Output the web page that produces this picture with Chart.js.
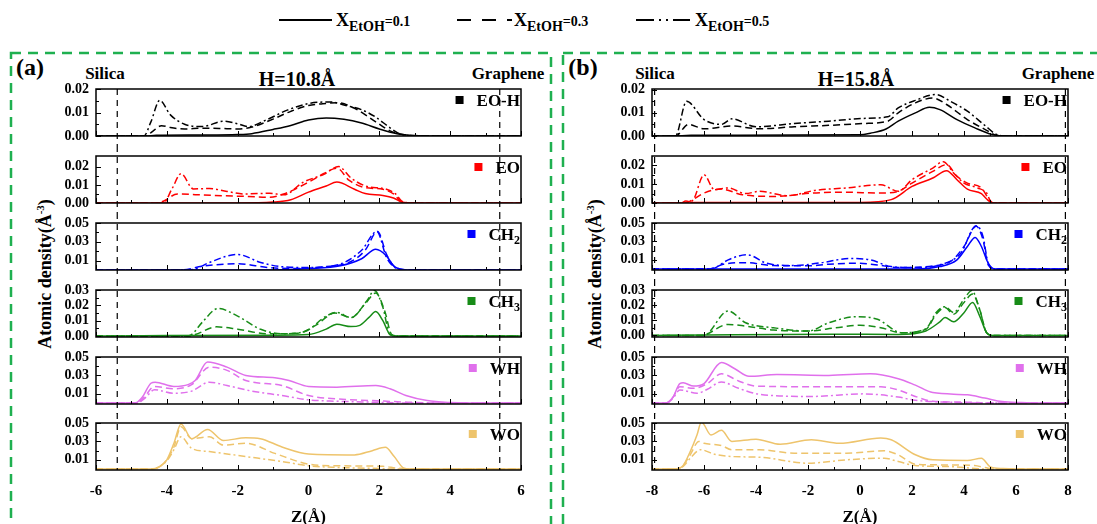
<!DOCTYPE html>
<html>
<head>
<meta charset="utf-8">
<script src="https://cdn.jsdelivr.net/npm/chart.js@4.4.1/dist/chart.umd.min.js"></script>
<style>
  body { margin: 0; width: 1097px; height: 524px; position: relative; overflow: hidden; background: #fff;
         font-family: "Liberation Serif", "Times New Roman", serif; font-weight: bold; color: #000; }
  canvas { position: absolute; }
  .lbl { position: absolute; white-space: nowrap; transform: translate(-50%, -50%); line-height: 1; }
  .ytitle { position: absolute; white-space: nowrap; transform: translate(-50%, -50%) rotate(-90deg); font-size: 18px; line-height: 1; }
  .key { position: absolute; top: 11px; white-space: nowrap; font-size: 18px; line-height: 1; }
  .key sub { font-size: 14px; vertical-align: -5px; }
  .key small { font-size: 14px; }
</style>
</head>
<body>
<svg style="position:absolute;left:0;top:0" width="1097" height="524">
  <rect x="11" y="53" width="540" height="500" fill="none" stroke="#1fb050" stroke-width="2.5" stroke-dasharray="10 7"/>
  <rect x="563" y="53" width="560" height="500" fill="none" stroke="#1fb050" stroke-width="2.5" stroke-dasharray="10 7"/>
  <line x1="279" y1="20" x2="332" y2="20" stroke="#000" stroke-width="2"/>
  <line x1="457" y1="20" x2="512" y2="20" stroke="#000" stroke-width="2" stroke-dasharray="14 11"/>
  <line x1="636" y1="20" x2="690" y2="20" stroke="#000" stroke-width="2" stroke-dasharray="18 5 2 5 2 5"/>
</svg>
<div class="key" style="left:336px">X<sub>EtOH</sub><small>=0.1</small></div>
<div class="key" style="left:514px">X<sub>EtOH</sub><small>=0.3</small></div>
<div class="key" style="left:695px">X<sub>EtOH</sub><small>=0.5</small></div>

<div class="lbl" style="left:30px;top:67px;font-size:24px">(a)</div>
<div class="lbl" style="left:105px;top:73px;font-size:17px">Silica</div>
<div class="lbl" style="left:297px;top:79px;font-size:20px">H=10.8Å</div>
<div class="lbl" style="left:508px;top:73px;font-size:17px">Graphene</div>
<div class="lbl" style="left:583px;top:67px;font-size:24px">(b)</div>
<div class="lbl" style="left:655px;top:73px;font-size:17px">Silica</div>
<div class="lbl" style="left:856px;top:79px;font-size:20px">H=15.8Å</div>
<div class="lbl" style="left:1058px;top:73px;font-size:17px">Graphene</div>
<div class="ytitle" style="left:44px;top:274px">Atomic density(Å<sup style="font-size:11px">-3</sup>)</div>
<div class="ytitle" style="left:594px;top:274px">Atomic density(Å<sup style="font-size:11px">-3</sup>)</div>

<script>
// density profiles along Z, as [z (Å), rho (Å^-3)]
// panel (a), H = 10.8 Å
const aEOH1 = [[-6,0],[-4.6,0],[-4.3,0.0003],[-3,0.0004],[-2,0.0006],[-1.6,0.001],[-1,0.0028],[-0.5,0.0045],[0,0.0068],[0.5,0.0077],[1,0.0071],[1.5,0.0055],[2,0.003],[2.5,0.001],[3,0.0002],[3.5,0],[6,0]];
const aEOH3 = [[-6,0],[-4.6,0],[-4.4,0.002],[-4.15,0.0044],[-3.9,0.0036],[-3.5,0.003],[-3,0.0033],[-2.5,0.0032],[-2,0.003],[-1.6,0.0038],[-1,0.0072],[-0.5,0.0105],[0,0.013],[0.4,0.0137],[0.8,0.0142],[1.3,0.0118],[1.9,0.006],[2.3,0.0022],[2.7,0.0005],[3.2,0],[6,0]];
const aEOH5 = [[-6,0],[-4.65,0],[-4.45,0.006],[-4.2,0.0152],[-3.9,0.009],[-3.5,0.005],[-3,0.004],[-2.4,0.0063],[-2,0.0052],[-1.7,0.004],[-1.2,0.0068],[-0.6,0.011],[0,0.0138],[0.6,0.0145],[1.1,0.0128],[1.5,0.0112],[1.9,0.008],[2.3,0.0035],[2.6,0.0008],[3,0.0001],[6,0]];
const aEO1 = [[-6,0],[-2,0],[-1,0.0005],[-0.5,0.0018],[0,0.006],[0.5,0.0094],[0.8,0.0116],[1.3,0.0076],[1.6,0.0052],[2.1,0.0042],[2.4,0.0028],[2.65,0.0004],[3,0],[6,0]];
const aEO3 = [[-6,0],[-4.3,0],[-4.1,0.001],[-3.7,0.005],[-3.2,0.0046],[-2.4,0.004],[-1.7,0.0036],[-1.1,0.0032],[-0.7,0.005],[0,0.0115],[0.45,0.0165],[0.8,0.0193],[1.15,0.0125],[1.6,0.0085],[2.1,0.0076],[2.4,0.005],[2.65,0.0004],[3,0],[6,0]];
const aEO5 = [[-6,0],[-4.1,0],[-3.85,0.008],[-3.6,0.0162],[-3.25,0.0078],[-2.8,0.008],[-2.3,0.0064],[-1.8,0.005],[-1.1,0.0054],[-0.7,0.0045],[-0.15,0.0115],[0.45,0.016],[0.85,0.0202],[1.2,0.0138],[1.6,0.0095],[2.2,0.0076],[2.45,0.0052],[2.65,0.0008],[3,0],[6,0]];
const aCH2_1 = [[-6,0],[-1,0],[0,0.0015],[0.9,0.0045],[1.5,0.012],[1.9,0.022],[2.2,0.015],[2.4,0.0045],[2.6,0.0008],[2.9,0],[6,0]];
const aCH2_3 = [[-6,0],[-3.6,0],[-3,0.004],[-2,0.0067],[-1.15,0.0027],[-0.5,0.0016],[0.3,0.003],[1.2,0.009],[1.6,0.021],[1.95,0.041],[2.2,0.017],[2.4,0.0045],[2.6,0.0008],[2.9,0],[6,0]];
const aCH2_5 = [[-6,0],[-3.4,0],[-3.2,0.001],[-2.8,0.008],[-2,0.0165],[-1.35,0.008],[-0.75,0.0035],[0,0.0027],[0.9,0.0064],[1.5,0.021],[1.93,0.041],[2.2,0.0136],[2.4,0.0035],[2.6,0.0005],[2.9,0],[6,0]];
const aCH3_1 = [[-6,0],[-4,0.0003],[-1,0.0006],[0,0.001],[0.5,0.0045],[0.8,0.0077],[1.2,0.0062],[1.45,0.007],[1.7,0.012],[1.9,0.016],[2.1,0.01],[2.3,0.001],[2.5,0],[6,0]];
const aCH3_3 = [[-6,0],[-3.4,0],[-3.2,0.001],[-2.6,0.006],[-2,0.0045],[-1.15,0.0015],[-0.3,0.0018],[0.2,0.007],[0.75,0.015],[1.2,0.012],[1.6,0.021],[1.9,0.028],[2.15,0.0165],[2.35,0.001],[2.6,0],[6,0]];
const aCH3_5 = [[-6,0],[-3.5,0],[-3.3,0.001],[-3,0.009],[-2.55,0.018],[-2,0.013],[-1.35,0.0044],[-0.75,0.0015],[-0.1,0.003],[0.5,0.013],[0.8,0.0154],[1.2,0.012],[1.65,0.023],[1.86,0.0297],[2.1,0.0187],[2.3,0.001],[2.6,0],[6,0]];
const aWH1 = [[-6,0],[-4.9,0],[-4.7,0.006],[-4.45,0.0215],[-4.33,0.0227],[-3.8,0.018],[-3.4,0.02],[-3.2,0.0245],[-2.85,0.0445],[-2.3,0.039],[-1.77,0.03],[-0.95,0.0275],[-0.55,0.0245],[0,0.018],[0.8,0.0173],[1.9,0.019],[2.3,0.0155],[2.75,0.0082],[3.35,0.0027],[4,0.0005],[4.5,0],[6,0]];
const aWH3 = [[-6,0],[-4.85,0],[-4.65,0.006],[-4.35,0.018],[-3.8,0.0155],[-3.3,0.02],[-2.8,0.039],[-2.3,0.0355],[-1.77,0.0245],[-0.75,0.019],[0,0.0082],[0.8,0.0045],[1.8,0.0027],[2.8,0.001],[3.5,0],[6,0]];
const aWH5 = [[-6,0],[-4.85,0],[-4.6,0.006],[-4.35,0.0145],[-3.8,0.0107],[-3.3,0.013],[-2.8,0.0227],[-2.3,0.019],[-1.6,0.013],[-0.75,0.0082],[0,0.0035],[0.8,0.002],[1.8,0.001],[2.8,0],[6,0]];
const aWO1 = [[-6,0],[-4.45,0],[-4.2,0.003],[-4,0.01],[-3.8,0.028],[-3.6,0.049],[-3.3,0.033],[-2.85,0.043],[-2.4,0.031],[-1.77,0.034],[-1.36,0.033],[-0.75,0.024],[0,0.0164],[1.3,0.0154],[1.8,0.02],[2.17,0.0236],[2.42,0.0136],[2.7,0.001],[3,0],[6,0]];
const aWO3 = [[-6,0],[-4.4,0],[-4,0.01],[-3.8,0.024],[-3.6,0.046],[-3.3,0.033],[-2.8,0.035],[-2.4,0.026],[-1.77,0.028],[-0.95,0.017],[0,0.0054],[0.8,0.0036],[2.1,0.003],[2.5,0.001],[3,0],[6,0]];
const aWO5 = [[-6,0],[-4.4,0],[-4,0.009],[-3.8,0.021],[-3.6,0.035],[-3.3,0.0225],[-2.8,0.019],[-1.77,0.0136],[-0.75,0.0082],[0,0.0036],[0.8,0.0018],[1.8,0.0008],[2.5,0],[6,0]];

// panel (b), H = 15.8 Å
const bEOH1 = [[-8,0],[-7.2,0],[-6.5,0.0003],[0,0.0005],[0.4,0.0012],[1,0.003],[1.47,0.0064],[2.13,0.01],[2.67,0.0124],[3.07,0.0114],[3.73,0.0071],[4.4,0.0036],[5.07,0.0007],[5.7,0],[8,0]];
const bEOH3 = [[-8,0],[-7.1,0],[-6.6,0.005],[-6,0.0031],[-4.93,0.0043],[-3.87,0.0031],[-2.53,0.004],[-1.2,0.0046],[0.13,0.0054],[1.07,0.0064],[1.47,0.01],[2.13,0.0143],[2.8,0.0164],[3.33,0.0136],[4.13,0.0071],[4.8,0.0029],[5.2,0.0005],[5.6,0],[8,0]];
const bEOH5 = [[-8,0],[-7.1,0],[-6.67,0.015],[-6,0.0071],[-5.33,0.005],[-4.93,0.0074],[-4,0.004],[-2.53,0.0054],[-1.2,0.0064],[0.13,0.0076],[1.07,0.0083],[1.47,0.0121],[2.13,0.0154],[2.93,0.0179],[3.47,0.015],[4.13,0.0107],[4.8,0.0046],[5.2,0.001],[5.6,0],[8,0]];
const bEO1 = [[-8,0],[-6.9,0],[-6.7,0.001],[-6.4,0.0002],[0,0.0003],[1.2,0.0018],[2,0.0088],[2.8,0.0133],[3.33,0.0172],[3.73,0.0124],[4.13,0.0074],[4.67,0.005],[4.87,0.0021],[5.07,0.0002],[5.4,0],[8,0]];
const bEO3 = [[-8,0],[-6.8,0],[-6.53,0.001],[-6,0.0053],[-5.33,0.0074],[-4.53,0.0044],[-3.2,0.0035],[-1.87,0.0053],[-0.53,0.0057],[0.8,0.0053],[1.47,0.0062],[2,0.0106],[2.8,0.0168],[3.33,0.0204],[3.73,0.0142],[4.13,0.0106],[4.67,0.008],[4.93,0.0027],[5.13,0],[8,0]];
const bEO5 = [[-8,0],[-6.7,0],[-6.4,0.002],[-6,0.015],[-5.6,0.0071],[-5.07,0.008],[-4.4,0.005],[-3.87,0.0062],[-2.8,0.0039],[-1.73,0.0067],[-0.53,0.008],[0.8,0.0097],[1.47,0.0062],[2,0.0124],[2.8,0.0186],[3.2,0.022],[3.6,0.016],[4,0.0106],[4.53,0.008],[4.87,0.0053],[5.07,0],[8,0]];
const bCH2_1 = [[-8,0],[2.1,0],[3.07,0.0027],[3.73,0.01],[4.13,0.0245],[4.43,0.0344],[4.67,0.0245],[4.93,0.0064],[5.2,0],[8,0]];
const bCH2_3 = [[-8,0],[-5.9,0],[-5.73,0.0005],[-5.2,0.0056],[-4.4,0.007],[-3.33,0.0038],[-2,0.0035],[-1.2,0.0053],[-0.13,0.0064],[0.67,0.0045],[1.47,0.0016],[2.8,0.0035],[3.47,0.008],[4,0.0245],[4.47,0.0464],[4.73,0.032],[4.93,0.0045],[5.2,0],[8,0]];
const bCH2_5 = [[-8,0],[-5.8,0],[-5.6,0.001],[-5.07,0.01],[-4.33,0.0155],[-3.6,0.0064],[-2.53,0.0038],[-1.47,0.007],[-0.4,0.0115],[0.4,0.01],[1.2,0.0027],[2.13,0.0016],[3.07,0.0045],[3.87,0.017],[4.47,0.047],[4.73,0.0355],[4.93,0.0064],[5.2,0],[8,0]];
const bCH3_1 = [[-8,0],[-6,0.0003],[-1,0.0008],[1.47,0.0007],[2.53,0.003],[3.07,0.009],[3.27,0.0118],[3.6,0.009],[4,0.015],[4.33,0.0218],[4.6,0.0129],[4.87,0.0018],[5.1,0],[8,0]];
const bCH3_3 = [[-8,0],[-6,0],[-5.87,0.001],[-5.07,0.0073],[-4.4,0.0062],[-3.33,0.0036],[-2,0.0029],[-0.93,0.0051],[0,0.0067],[0.8,0.0051],[1.6,0.0018],[2.53,0.004],[2.93,0.014],[3.27,0.0184],[3.6,0.014],[4,0.0218],[4.33,0.0273],[4.6,0.0173],[4.87,0.0018],[5.1,0],[8,0]];
const bCH3_5 = [[-8,0],[-6,0],[-5.87,0.001],[-5.07,0.0162],[-4.4,0.0084],[-3.33,0.0051],[-2,0.0029],[-1.2,0.0084],[-0.13,0.0124],[0.67,0.0107],[1.6,0.0018],[2.53,0.0044],[2.93,0.0151],[3.27,0.019],[3.6,0.0151],[4,0.024],[4.3,0.0296],[4.6,0.0173],[4.87,0.0018],[5.1,0],[8,0]];
const bWH1 = [[-8,0],[-7.5,0],[-7.2,0.006],[-6.93,0.0212],[-6.8,0.022],[-6.4,0.0184],[-6,0.0212],[-5.33,0.044],[-4.8,0.037],[-4.27,0.029],[-3.2,0.031],[-1.2,0.03],[0.4,0.0318],[1.47,0.0265],[2.13,0.0195],[2.8,0.0114],[4.13,0.009],[4.8,0.0054],[5.47,0.0016],[6.2,0.0005],[7,0],[8,0]];
const bWH3 = [[-8,0],[-7.45,0],[-7.2,0.006],[-6.93,0.0177],[-6.4,0.016],[-5.87,0.0212],[-5.33,0.0318],[-4.67,0.024],[-4,0.0184],[-1.2,0.0177],[0.8,0.0177],[1.47,0.0142],[2.13,0.0072],[2.8,0.002],[4.13,0.001],[5,0],[8,0]];
const bWH5 = [[-8,0],[-7.45,0],[-7.2,0.005],[-6.93,0.0142],[-6.27,0.0107],[-5.87,0.015],[-5.33,0.023],[-4.67,0.016],[-3.87,0.0096],[-1.87,0.0072],[0.13,0.01],[1.47,0.0065],[2.13,0.003],[3.47,0.0009],[4.5,0],[8,0]];
const bWO1 = [[-8,0],[-7.1,0],[-6.8,0.004],[-6.53,0.019],[-6.27,0.037],[-6.1,0.051],[-5.73,0.037],[-5.33,0.042],[-4.93,0.03],[-4,0.0325],[-3.07,0.027],[-1.87,0.0318],[-0.8,0.028],[0.8,0.0336],[1.2,0.0318],[2.13,0.0155],[2.8,0.01],[4.13,0.0093],[4.67,0.0118],[5,0.0027],[5.5,0.0005],[6,0],[8,0]];
const bWO3 = [[-8,0],[-7.1,0],[-6.8,0.004],[-6.53,0.0155],[-6.2,0.03],[-6,0.028],[-5.33,0.0256],[-4.93,0.021],[-3.87,0.021],[-2.53,0.0173],[-0.53,0.0173],[0.93,0.0198],[1.47,0.0155],[2.13,0.0053],[3.47,0.0045],[4.4,0.0038],[4.93,0.001],[5.5,0],[8,0]];
const bWO5 = [[-8,0],[-7.1,0],[-6.8,0.003],[-6.53,0.0118],[-6.13,0.021],[-5.6,0.0162],[-4.93,0.0136],[-3.87,0.0129],[-2,0.0064],[-0.53,0.01],[0.93,0.0118],[1.47,0.0082],[2.13,0.0038],[3.47,0.0027],[4.93,0],[8,0]];

const speciesNames = ['EO-H', 'EO', 'CH2', 'CH3', 'WH', 'WO'];
const fractions = ['0.1', '0.3', '0.5'];
const zTicksA = [-6, -4, -2, 0, 2, 4, 6];
const zTicksB = [-8, -6, -4, -2, 0, 2, 4, 6, 8];
const wallsA = [-5.4, 5.4];
const wallsB = [-7.9, 7.9];
const ticksEOH = [0, 0.01, 0.02];
const ticksEO = [0, 0.01, 0.02];
const ticksCH2 = [0.01, 0.03, 0.05];
const ticksCH3 = [0, 0.01, 0.02, 0.03];
const ticksWH = [0.01, 0.03, 0.05];
const ticksWO = [0.01, 0.03, 0.05];
const densityTicks = [ticksEOH, ticksEO, ticksCH2, ticksCH3, ticksWH, ticksWO];

// styling
const speciesColors = ['#000000', '#ff0000', '#0000ff', '#178c17', '#e070ec', '#eec46c'];
const dashPatterns = [[], [7, 4], [7, 3, 2, 3]];
const FONT = '"Liberation Serif", "Times New Roman", serif';
const boxTops = [89, 156, 223, 290, 357, 423];
const boxH = 47;

const panels = [
  {
    left: 0, width: 530, axisWidth: 96, padRight: 9, zMin: -6, zMax: 6, zTicks: zTicksA, walls: wallsA,
    yMin: [0, 0, 0, -0.0006, -0.001, -0.001], yMax: [0.02, 0.026, 0.05, 0.03, 0.05, 0.05],
    series: [[aEOH1, aEOH3, aEOH5], [aEO1, aEO3, aEO5], [aCH2_1, aCH2_3, aCH2_5],
             [aCH3_1, aCH3_3, aCH3_5], [aWH1, aWH3, aWH5], [aWO1, aWO3, aWO5]]
  },
  {
    left: 552, width: 530, axisWidth: 100, padRight: 14, zMin: -8, zMax: 8, zTicks: zTicksB, walls: wallsB,
    yMin: [0, 0, -0.001, -0.001, -0.001, -0.001], yMax: [0.0203, 0.025, 0.05, 0.03, 0.05, 0.05],
    series: [[bEOH1, bEOH3, bEOH5], [bEO1, bEO3, bEO5], [bCH2_1, bCH2_3, bCH2_5],
             [bCH3_1, bCH3_3, bCH3_5], [bWH1, bWH3, bWH5], [bWO1, bWO3, bWO5]]
  }
];

// keep the layout from reserving room for overhanging tick labels
const noOverhang = s => { s.paddingTop = 0; s.paddingBottom = 0; s.paddingLeft = 0; s.paddingRight = 0; };

// frame, inward ticks, wall lines and species key for each sub-plot
const framePlugin = {
  id: 'frame',
  afterDatasetsDraw(chart, args, o) {
    const { ctx, chartArea: a } = chart;
    const x = chart.scales.x, y = chart.scales.y;
    ctx.save();
    ctx.strokeStyle = '#000';

    ctx.lineWidth = 1.2;
    ctx.setLineDash([6, 5]);
    o.walls.forEach(w => {
      const px = x.getPixelForValue(w);
      ctx.beginPath();
      ctx.moveTo(px, o.first ? a.top : 0);
      ctx.lineTo(px, o.last ? a.bottom : chart.height);
      ctx.stroke();
    });
    ctx.setLineDash([]);

    ctx.lineWidth = 1;
    ctx.beginPath();
    for (let v = Math.ceil(x.min); v <= x.max; v++) {
      const px = Math.round(x.getPixelForValue(v)) + 0.5;
      ctx.moveTo(px, a.bottom);
      ctx.lineTo(px, a.bottom - (v % 2 === 0 ? 5 : 3));
    }
    const t = o.ticks;
    t.forEach((v, i) => {
      const py = Math.round(y.getPixelForValue(v)) + 0.5;
      ctx.moveTo(a.left, py);
      ctx.lineTo(a.left + 5, py);
      if (i < t.length - 1) {
        const pm = Math.round(y.getPixelForValue((v + t[i + 1]) / 2)) + 0.5;
        ctx.moveTo(a.left, pm);
        ctx.lineTo(a.left + 3, pm);
      }
    });
    ctx.stroke();

    ctx.lineWidth = 1.5;
    ctx.strokeRect(a.left, a.top, a.width, a.height);

    // species key: square + name with subscript digit
    const m = o.name.match(/^(.*?)(\d?)$/);
    ctx.textBaseline = 'alphabetic';
    ctx.font = `bold 17px ${FONT}`;
    const wMain = ctx.measureText(m[1]).width;
    ctx.font = `bold 12px ${FONT}`;
    const wSub = ctx.measureText(m[2]).width;
    const x0 = a.right - 1 - wMain - wSub;
    const base = a.top + 17;
    ctx.fillStyle = '#000';
    ctx.font = `bold 17px ${FONT}`;
    ctx.fillText(m[1], x0, base);
    ctx.font = `bold 12px ${FONT}`;
    ctx.fillText(m[2], x0 + wMain, base + 4);
    ctx.fillStyle = o.color;
    ctx.fillRect(x0 - 21, base - 10, 8, 8);
    ctx.restore();
  }
};

panels.forEach(p => {
  p.series.forEach((trio, i) => {
    const first = i === 0, last = i === 5;
    const top = boxTops[i] - 10;
    const h = last ? 524 - top : boxH + 20;
    const cv = document.createElement('canvas');
    cv.width = p.width;
    cv.height = h;
    cv.style.left = p.left + 'px';
    cv.style.top = top + 'px';
    document.body.appendChild(cv);

    const color = speciesColors[i];
    new Chart(cv, {
      type: 'line',
      data: {
        datasets: trio.map((pts, k) => ({
          label: speciesNames[i] + ' ' + fractions[k],
          data: pts.map(([z, r]) => ({ x: z, y: r })),
          borderColor: color,
          borderWidth: 1.5,
          borderDash: dashPatterns[k],
          pointRadius: 0,
          fill: false,
          cubicInterpolationMode: 'monotone'
        }))
      },
      options: {
        responsive: false,
        animation: false,
        devicePixelRatio: 1,
        layout: { padding: { left: 0, right: p.padRight, top: 10, bottom: last ? 0 : 10 } },
        plugins: {
          legend: { display: false },
          tooltip: { enabled: false },
          frame: { walls: p.walls, first, last, ticks: densityTicks[i], name: speciesNames[i], color }
        },
        scales: {
          x: {
            type: 'linear',
            min: p.zMin,
            max: p.zMax,
            display: last,
            afterBuildTicks: s => { s.ticks = p.zTicks.map(v => ({ value: v })); },
            afterFit: s => { s.height = last ? 54 : 0; noOverhang(s); },
            grid: { display: false, drawTicks: false },
            border: { display: false },
            ticks: { padding: 12, autoSkip: false, color: '#000', font: { family: FONT, size: 15, weight: 'bold' } },
            title: {
              display: true, text: 'Z(Å)', color: '#000',
              font: { family: FONT, size: 17, weight: 'bold' }, padding: { top: 0, bottom: -4 }
            }
          },
          y: {
            min: p.yMin[i],
            max: p.yMax[i],
            afterBuildTicks: s => { s.ticks = densityTicks[i].map(v => ({ value: v })); },
            afterFit: s => { s.width = p.axisWidth; noOverhang(s); },
            grid: { display: false, drawTicks: false },
            border: { display: false },
            ticks: {
              padding: 7, autoSkip: false, color: '#000', font: { family: FONT, size: 14, weight: 'bold' },
              callback: v => v.toFixed(2)
            }
          }
        }
      },
      plugins: [framePlugin]
    });
  });
});
</script>
</body>
</html>
